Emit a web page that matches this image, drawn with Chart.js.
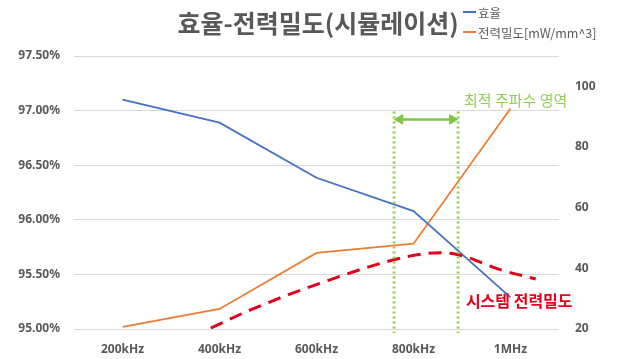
<!DOCTYPE html>
<html>
<head>
<meta charset="utf-8">
<script src="https://cdn.jsdelivr.net/npm/chart.js@4.4.1/dist/chart.umd.min.js"></script>
<style>
  html, body { margin: 0; padding: 0; background: #ffffff; }
  #wrap { width: 637px; height: 359px; position: relative; }
</style>
</head>
<body>
<div id="wrap"><canvas id="c" width="637" height="359"></canvas></div>
<script>
// ---- data ----
const titleText = '효율-전력밀도(시뮬레이션)';
const categories = ['200kHz', '400kHz', '600kHz', '800kHz', '1MHz'];
const efficiency = [97.10, 96.89, 96.385, 96.08, 95.29];          // %
const powerDensity = [20.7, 26.6, 45.1, 48.1, 92.7];              // mW/mm^3
const effLabel = '효율';
const pdLabel = '전력밀도[mW/mm^3]';
// system power density (dashed curve), x in category-index units
const sysX = [0.91, 1.32, 2.02, 2.97, 3.28, 3.46, 3.90, 4.26];
const sysY = [20.3, 26.3, 34.9, 44.1, 45.1, 44.5, 39.5, 36.5];
const sysLabel = '시스템 전력밀도';
// optimal frequency band
const bandX = [2.80, 3.46];
const bandTop = 91.7;
const bandBottom = 18.7;
const arrowX = [2.86, 3.40];
const arrowY = 89.1;
const bandLabel = '최적 주파수 영역';
const bandLabelPos = [3.52, 95.4];
const sysLabelPos = [3.54, 29.3];
// axis ticks
const leftTicks = [95.0, 95.5, 96.0, 96.5, 97.0, 97.5];
const rightTicks = [20, 40, 60, 80, 100];

const GRAY = '#595959';
const GREEN = '#92D050';
const RED = '#E3001B';

const overlay = {
  id: 'overlay',
  afterDraw(chart) {
    const ctx = chart.ctx;
    const xs = chart.scales.x2, ys = chart.scales.y1;
    ctx.save();
    // title
    ctx.font = 'bold 25px "Noto Sans CJK KR"';
    ctx.fillStyle = GRAY;
    ctx.textAlign = 'center';
    ctx.textBaseline = 'middle';
    ctx.fillText(titleText, 318, 23);
    // legend
    const items = [chart.data.datasets[0], chart.data.datasets[1]];
    ctx.font = '12.5px "Noto Sans CJK KR"';
    ctx.textAlign = 'left';
    items.forEach((ds, i) => {
      const y = 12 + i * 20;
      ctx.strokeStyle = ds.borderColor;
      ctx.lineWidth = 2;
      ctx.beginPath();
      ctx.moveTo(463, y);
      ctx.lineTo(476, y);
      ctx.stroke();
      ctx.fillStyle = GRAY;
      ctx.fillText(ds.label, 478, y + 1);
    });
    // annotations
    ctx.font = '15px "Noto Sans CJK KR"';
    ctx.fillStyle = GREEN;
    ctx.fillText(bandLabel, xs.getPixelForValue(bandLabelPos[0]), ys.getPixelForValue(bandLabelPos[1]));
    ctx.font = 'bold 16px "Noto Sans CJK KR"';
    ctx.fillStyle = RED;
    ctx.fillText(sysLabel, xs.getPixelForValue(sysLabelPos[0]), ys.getPixelForValue(sysLabelPos[1]));
    ctx.restore();
  }
};

const tickFont = { family: '"Noto Sans"', size: 12, weight: 'bold' };

new Chart(document.getElementById('c'), {
  type: 'line',
  data: {
    labels: categories,
    datasets: [
      {
        label: effLabel, data: efficiency, xAxisID: 'x', yAxisID: 'y',
        borderColor: '#4472C4', borderWidth: 1.8, pointRadius: 0, tension: 0, order: 2
      },
      {
        label: pdLabel, data: powerDensity, xAxisID: 'x', yAxisID: 'y1',
        borderColor: '#ED7D31', borderWidth: 1.8, pointRadius: 0, tension: 0, order: 3
      },
      {
        label: sysLabel, data: sysX.map((x, i) => ({ x: x, y: sysY[i] })),
        xAxisID: 'x2', yAxisID: 'y1', borderColor: RED, borderWidth: 3,
        borderDash: [13, 8], pointRadius: 0, cubicInterpolationMode: 'monotone', order: 1
      },
      {
        label: 'band1', data: [{ x: bandX[0], y: bandTop }, { x: bandX[0], y: bandBottom }],
        xAxisID: 'x2', yAxisID: 'y1', borderColor: GREEN, borderWidth: 3,
        borderDash: [2, 3], pointRadius: 0, clip: false, order: 0
      },
      {
        label: 'band2', data: [{ x: bandX[1], y: bandTop }, { x: bandX[1], y: bandBottom }],
        xAxisID: 'x2', yAxisID: 'y1', borderColor: GREEN, borderWidth: 3,
        borderDash: [2, 3], pointRadius: 0, clip: false, order: 0
      },
      {
        label: 'arrow', data: [{ x: arrowX[0], y: arrowY }, { x: arrowX[1], y: arrowY }],
        xAxisID: 'x2', yAxisID: 'y1', borderColor: '#7EC544', backgroundColor: '#7EC544',
        borderWidth: 2.5, pointStyle: 'triangle', pointRadius: 5.5,
        pointRotation: [-90, 90], pointBorderWidth: 1, order: 0
      }
    ]
  },
  options: {
    responsive: false,
    animation: false,
    devicePixelRatio: 1,
    layout: { padding: { top: 56, left: 0, right: 0, bottom: 0 } },
    plugins: { legend: { display: false }, title: { display: false }, tooltip: { enabled: false } },
    scales: {
      x: {
        type: 'category', offset: true,
        grid: { display: false, drawTicks: false },
        border: { display: false },
        ticks: { color: GRAY, font: tickFont, padding: 13, maxRotation: 0 },
        afterFit(s) { s.height = 30; }
      },
      x2: { type: 'linear', min: -0.5, max: 4.5, display: false },
      y: {
        position: 'left', min: 95, max: 97.5,
        grid: { color: '#D9D9D9', lineWidth: 1, drawTicks: false },
        border: { display: false },
        afterBuildTicks(s) { s.ticks = leftTicks.map(v => ({ value: v })); },
        ticks: { color: GRAY, font: tickFont, padding: 14, callback: v => Number(v).toFixed(2) + '%' },
        afterFit(s) { s.width = 74; }
      },
      y1: {
        position: 'right', min: 20, max: 110,
        grid: { display: false, drawTicks: false },
        border: { display: false },
        afterBuildTicks(s) { s.ticks = rightTicks.map(v => ({ value: v })); },
        ticks: { color: GRAY, font: tickFont, padding: 16 },
        afterFit(s) { s.width = 78; }
      }
    }
  },
  plugins: [overlay]
});
</script>
</body>
</html>
